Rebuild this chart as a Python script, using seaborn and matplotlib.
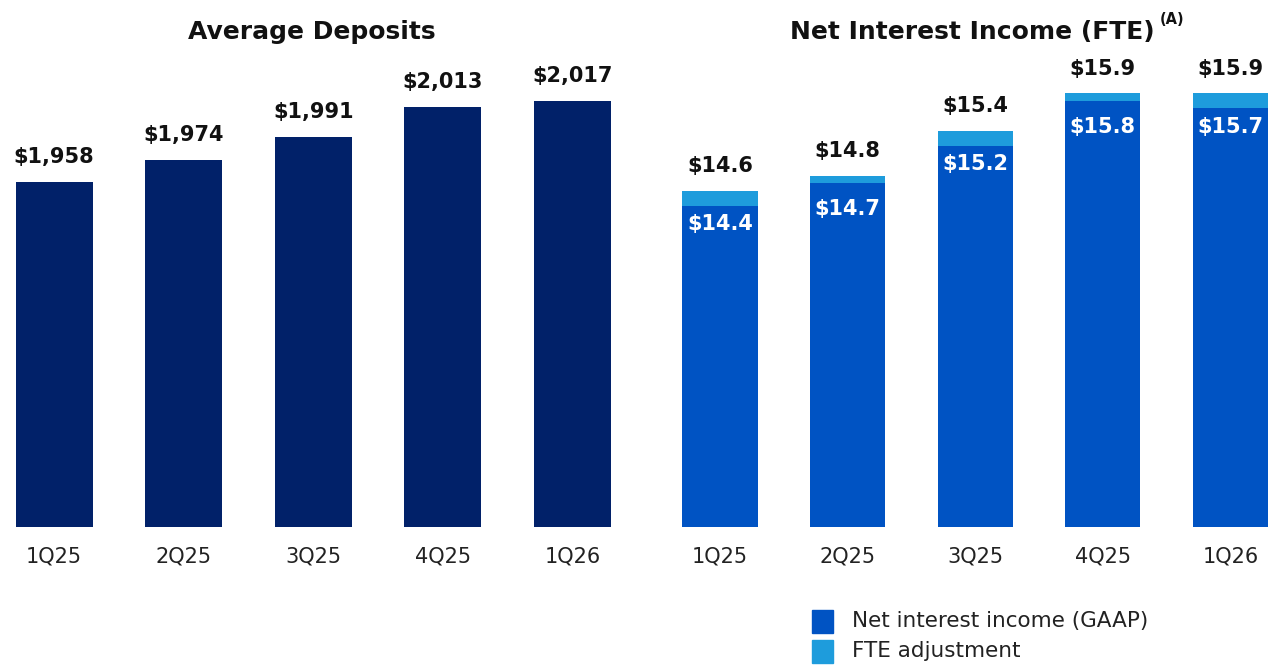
import matplotlib
matplotlib.use("Agg")
import matplotlib.pyplot as plt
import seaborn as sns
import pandas as pd

# Quarterly data
quarters = ["1Q25", "2Q25", "3Q25", "4Q25", "1Q26"]
avg_deposits = [1958, 1974, 1991, 2013, 2017]          # $B
nii_gaap = [14.4, 14.7, 15.2, 15.8, 15.7]              # $B
nii_fte_total = [14.6, 14.8, 15.4, 15.9, 15.9]         # $B

NAVY = "#012169"
GAAP_BLUE = "#0053C3"
FTE_BLUE = "#1E9CDC"
TEXT = "#111111"

sns.set_theme(style="white")
plt.rcParams["font.family"] = ["DejaVu Sans"]

W, H = 1274, 665
fig = plt.figure(figsize=(W / 100, H / 100), dpi=100)
base = (H - 527) / H
ax1 = fig.add_axes([0, base, 640 / W, 1 - base])
ax2 = fig.add_axes([640 / W, base, 634 / W, 1 - base])

df_dep = pd.DataFrame({"quarter": quarters, "value": avg_deposits})
df_nii = pd.DataFrame({"quarter": quarters, "gaap": nii_gaap, "total": nii_fte_total})

bar_kw = dict(saturation=1, linewidth=0, edgecolor="none")

# Left panel: average deposits
sns.barplot(data=df_dep, x="quarter", y="value", color=NAVY, width=0.594, ax=ax1, **bar_kw)
ax1.set_xlim(-0.4167, 4.521)
ax1.set_ylim(1707, 1707 + 527 / 1.374)
for i, v in enumerate(avg_deposits):
    ax1.annotate(f"${v:,}", (i, v), xytext=(0, 13.5), textcoords="offset points",
                 ha="center", va="baseline", fontsize=15, fontweight="bold", color=TEXT)

# Right panel: net interest income, GAAP with the FTE adjustment stacked on top
sns.barplot(data=df_nii, x="quarter", y="total", color=FTE_BLUE, width=0.588, ax=ax2, **bar_kw)
sns.barplot(data=df_nii, x="quarter", y="gaap", color=GAAP_BLUE, width=0.588, ax=ax2, **bar_kw)
ax2.set_xlim(-0.627, 4.341)
y0, scale = 10.12, 75.0
ax2.set_ylim(y0, y0 + 527 / scale)
for i, (g, t) in enumerate(zip(nii_gaap, nii_fte_total)):
    ax2.annotate(f"${t:.1f}", (i, t), xytext=(0, 13.5), textcoords="offset points",
                 ha="center", va="baseline", fontsize=15, fontweight="bold", color=TEXT)
    ax2.annotate(f"${g:.1f}", (i, t), xytext=(0, -24), textcoords="offset points",
                 ha="center", va="center", fontsize=15, fontweight="bold", color="white")

for ax in (ax1, ax2):
    ax.set_xlabel("")
    ax.set_ylabel("")
    ax.set_yticks([])
    for s in ax.spines.values():
        s.set_visible(False)
    ax.tick_params(axis="x", length=0, pad=14, labelsize=15, labelcolor="#222222")
    ax.patch.set_alpha(0)

# Panel titles
fig.text(312 / W, 1 - 38.5 / H, "Average Deposits", ha="center", va="baseline",
         fontsize=18, fontweight="bold", color=TEXT)
nii_title = fig.text(972 / W, 1 - 38.5 / H, "Net Interest Income (FTE)", ha="center",
                     va="baseline", fontsize=18, fontweight="bold", color=TEXT)
fig.canvas.draw()
bb = nii_title.get_window_extent()
fig.text((bb.x1 + 5) / W, 1 - 19 / H, "(A)", ha="left", va="center",
         fontsize=10.5, fontweight="bold", color=TEXT)

# Legend
legend_items = [("Net interest income (GAAP)", GAAP_BLUE), ("FTE adjustment", FTE_BLUE)]
for k, (label, col) in enumerate(legend_items):
    top = 610 + k * 30
    fig.patches.append(plt.Rectangle((812 / W, 1 - (top + 23) / H), 21 / W, 23 / H,
                                     transform=fig.transFigure, color=col, zorder=3))
    fig.text(852 / W, 1 - (top + 11) / H, label, ha="left", va="center",
             fontsize=15.5, color="#222222")

fig.savefig("out.png", dpi=100)
